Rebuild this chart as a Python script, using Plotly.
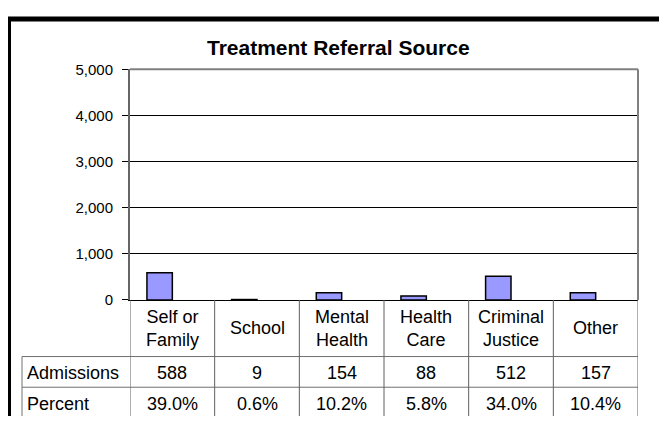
import plotly.graph_objects as go

# page shows the figure offset by 8px (body margin); design in reference pixels
OFF = 8
W, H = 659, 416

categories = ["Self or Family", "School", "Mental Health", "Health Care", "Criminal Justice", "Other"]
category_labels = ["Self or<br>Family", "School", "Mental<br>Health", "Health<br>Care", "Criminal<br>Justice", "Other"]
admissions = [588, 9, 154, 88, 512, 157]
percent_labels = ["39.0%", "0.6%", "10.2%", "5.8%", "34.0%", "10.4%"]
y_ticks = [0, 1000, 2000, 3000, 4000, 5000]
title_text = "Treatment Referral Source"
row_labels = ["Admissions", "Percent"]


def px(x):
    return (x - OFF) / W


def py(y):
    return 1 - (y - OFF) / H


FONT = "Liberation Sans, Arial, sans-serif"
TS = 18

fig = go.Figure()
fig.add_trace(go.Bar(
    x=categories, y=admissions,
    width=0.3, offset=-0.3,
    marker=dict(color="#9999FF", line=dict(color="black", width=1.5)),
    hoverinfo="x+y",
))

shapes = []


def line(x0, y0, x1, y1, color="black", width=1, xref="paper"):
    shapes.append(dict(type="line", xref=xref, yref="paper",
                       x0=x0, y0=y0, x1=x1, y1=y1,
                       line=dict(color=color, width=width)))


# outer frame
line(0, py(10), 1, py(10), width=5)
line(px(9.5), py(10), px(9.5), 0, width=3)
line(px(665.5), py(10), px(665.5), 0, width=1.5)

# plot border (top & right)
line(px(130), py(62.5), px(638), py(62.5), color="#808080", width=2)
line(px(638), py(62.5), px(638), py(303), color="#808080", width=2)

# table lines
line(px(22), py(362), px(638), py(362), color="#707070", width=1)
line(px(22), py(394), px(638), py(394), color="#707070", width=1)
line(px(22), py(362), px(22), 0, color="#707070", width=1)
for i in range(len(categories) + 1):
    shapes.append(dict(type="line", xref="x", yref="paper",
                       x0=i - 0.5, x1=i - 0.5, y0=py(303), y1=0,
                       line=dict(color="#606060", width=1)))

annotations = [dict(text="<b>%s</b>" % title_text, x=px(338), y=py(40),
                    xref="paper", yref="paper", showarrow=False,
                    xanchor="center", yanchor="middle",
                    font=dict(family=FONT, size=21, color="black"))]

for i, (lab, adm, pct) in enumerate(zip(category_labels, admissions, percent_labels)):
    annotations.append(dict(text=lab, x=i, y=py(332.5), xref="x", yref="paper",
                            showarrow=False, xanchor="center", yanchor="middle",
                            font=dict(family=FONT, size=TS, color="black")))
    annotations.append(dict(text=f"{adm:,}", x=i, y=py(379), xref="x", yref="paper",
                            showarrow=False, xanchor="center", yanchor="middle",
                            font=dict(family=FONT, size=TS, color="black")))
    annotations.append(dict(text=pct, x=i, y=py(411), xref="x", yref="paper",
                            showarrow=False, xanchor="center", yanchor="middle",
                            font=dict(family=FONT, size=TS, color="black")))

for lab, yy in zip(row_labels, [379, 411]):
    annotations.append(dict(text=lab, x=px(25), y=py(yy), xref="paper", yref="paper",
                            showarrow=False, xanchor="left", yanchor="middle",
                            font=dict(family=FONT, size=TS, color="black")))

fig.update_layout(
    width=W, height=H, autosize=False,
    margin=dict(l=0, r=0, t=0, b=0),
    paper_bgcolor="white", plot_bgcolor="white",
    showlegend=False,
    shapes=shapes, annotations=annotations,
    xaxis=dict(domain=[px(130), px(638)], range=[-0.5, len(categories) - 0.5],
               showticklabels=False, ticks="", showgrid=False, zeroline=False,
               showline=True, linecolor="black", linewidth=1,
               categoryorder="array", categoryarray=categories),
    yaxis=dict(domain=[py(303), py(62.5)], range=[0, 5000],
               tickvals=y_ticks, tickformat=",d",
               ticks="outside", ticklen=6, tickcolor="black", tickwidth=1,
               ticklabelstandoff=6,
               tickfont=dict(family=FONT, size=15, color="black"),
               showgrid=True, gridcolor="black", gridwidth=1, zeroline=False,
               showline=True, linecolor="#666666", linewidth=2),
    font=dict(family=FONT),
)

fig.write_html("out.html")
